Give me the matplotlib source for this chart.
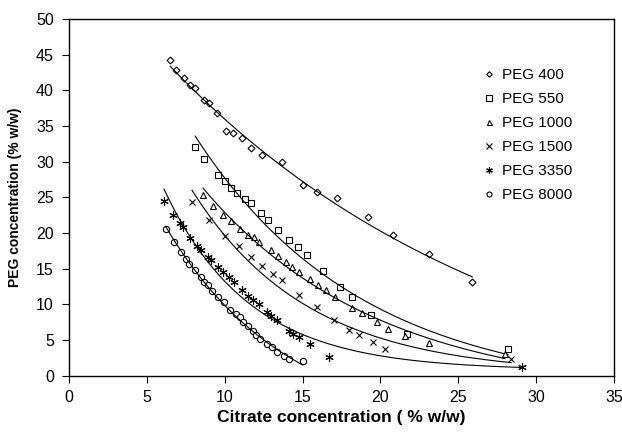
import numpy as np
import matplotlib
matplotlib.use('Agg')
import matplotlib.pyplot as plt

plt.rcParams['font.family'] = ['Liberation Sans', 'DejaVu Sans']

# ── Binodal data (citrate %, PEG %) ──────────────────────────────────────────
peg400_x = [6.5, 6.9, 7.4, 7.8, 8.1, 8.7, 9.0, 9.5, 10.1, 10.5, 11.1, 11.7, 12.4,
            13.7, 15.0, 15.9, 17.2, 19.2, 20.8, 23.1, 25.9]
peg400_y = [44.3, 42.8, 41.8, 40.7, 40.3, 38.7, 38.3, 36.9, 34.3, 34.0, 33.3, 31.9,
            31.0, 29.9, 26.8, 25.8, 24.9, 22.2, 19.7, 17.1, 13.1]

peg550_x = [8.1, 8.7, 9.6, 10.0, 10.4, 10.8, 11.3, 11.7, 12.3, 12.8, 13.4, 14.1,
            14.7, 15.3, 16.3, 17.4, 18.2, 19.4, 21.7, 28.2]
peg550_y = [32.1, 30.4, 28.2, 27.3, 26.3, 25.6, 24.8, 24.2, 22.8, 21.8, 20.4, 19.0,
            18.1, 16.9, 14.7, 12.5, 11.1, 8.5, 5.9, 3.7]

peg1000_x = [8.6, 9.25, 9.9, 10.4, 11.0, 11.5, 11.9, 12.2, 13.0, 13.4, 13.95, 14.3,
             14.8, 15.45, 16.0, 16.5, 17.1, 18.2, 18.8, 19.8, 20.5, 21.6, 23.1, 28.0]
peg1000_y = [25.3, 23.8, 22.6, 21.7, 20.6, 19.8, 19.4, 18.7, 17.6, 16.8, 16.0, 15.3,
             14.6, 13.6, 12.7, 12.0, 11.1, 9.5, 8.8, 7.6, 6.6, 5.6, 4.6, 3.1]

peg1500_x = [7.9, 9.0, 10.0, 10.9, 11.7, 12.4, 13.1, 13.7, 14.8, 15.9, 17.05, 18.0,
             18.65, 19.5, 20.3, 28.4]
peg1500_y = [24.3, 21.8, 19.6, 18.2, 16.6, 15.4, 14.3, 13.5, 11.3, 9.6, 7.8, 6.4,
             5.7, 4.7, 3.8, 2.3]

peg3350_x = [6.1, 6.7, 7.1, 7.3, 7.8, 8.25, 8.5, 8.9, 9.1, 9.6, 9.9, 10.3, 10.6,
             11.1, 11.5, 11.8, 12.2, 12.7, 13.0, 13.35, 14.1, 14.4, 14.8, 15.5, 16.7, 29.1]
peg3350_y = [24.5, 22.5, 21.4, 20.8, 19.3, 18.2, 17.6, 16.7, 16.2, 15.3, 14.6, 13.9,
             13.1, 12.1, 11.2, 10.6, 10.0, 9.0, 8.4, 7.8, 6.3, 5.9, 5.4, 4.4, 2.7, 1.3]

peg8000_x = [6.2, 6.75, 7.2, 7.5, 7.7, 8.1, 8.45, 8.7, 8.9, 9.2, 9.6, 9.95, 10.35,
             10.7, 10.95, 11.2, 11.5, 11.8, 12.0, 12.25, 12.7, 13.05, 13.35, 13.8, 14.1, 15.0]
peg8000_y = [20.6, 18.7, 17.4, 16.4, 15.7, 14.8, 13.8, 13.2, 12.7, 11.9, 11.0, 10.3,
             9.2, 8.7, 8.2, 7.5, 7.0, 6.3, 5.7, 5.2, 4.5, 4.0, 3.4, 2.8, 2.4, 2.1]

series_names = ['PEG 400', 'PEG 550', 'PEG 1000', 'PEG 1500', 'PEG 3350', 'PEG 8000']
series_x = [peg400_x, peg550_x, peg1000_x, peg1500_x, peg3350_x, peg8000_x]
series_y = [peg400_y, peg550_y, peg1000_y, peg1500_y, peg3350_y, peg8000_y]
markers = ['D', 's', '^', 'x', (6, 2, 0), 'o']
msizes = [3.5, 5, 4.5, 5, 6, 4.5]


def exp_offset_fit(x, y):
    """Fit y = a*exp(-k*x) + d: scan the offset d, log-linear fit for each,
    keep the one with the smallest (fit - y)^2 / y."""
    x = np.asarray(x, float)
    y = np.asarray(y, float)
    best = None
    for d in np.linspace(-40, 0.98 * y.min(), 600):
        k, lna = np.polyfit(x, np.log(y - d), 1)
        fit = np.exp(lna + k * x) + d
        err = np.sum((fit - y) ** 2 / y)
        if best is None or err < best[0]:
            best = (err, lna, k, d)
    _, lna, k, d = best
    xs = np.linspace(x.min(), x.max(), 200)
    return xs, np.exp(lna + k * xs) + d


fig = plt.figure(figsize=(6.22, 4.33), dpi=100)
ax = fig.add_axes([0.111, 0.132, 0.876, 0.824])

for name, xs, ys, mk, ms in zip(series_names, series_x, series_y, markers, msizes):
    ax.plot(xs, ys, linestyle='none', marker=mk, ms=ms, mfc='white', mec='black',
            mew=0.8, color='black', label=name)
    fx, fy = exp_offset_fit(xs, ys)
    ax.plot(fx, fy, color='black', lw=0.8)

ax.set_xlim(0, 35)
ax.set_ylim(0, 50)
ax.set_xticks(np.arange(0, 36, 5))
ax.set_yticks(np.arange(0, 51, 5))
ax.tick_params(direction='out', length=5, labelsize=11.5, width=0.8)
ax.tick_params(axis='x', pad=5)
ax.tick_params(axis='y', pad=6)
for sp in ax.spines.values():
    sp.set_linewidth(1.0)
ax.set_xlabel('Citrate concentration ( % w/w)', fontsize=12.5, fontweight='bold', labelpad=4)
ax.set_ylabel('PEG concentration (% w/w)', fontsize=10, fontweight='bold', labelpad=10)

ax.legend(loc='upper left', bbox_to_anchor=(0.752, 0.88), frameon=False, fontsize=11,
          handlelength=0.6, handletextpad=0.5, labelspacing=0.66, markerscale=0.8,
          borderaxespad=0)

plt.savefig('out.png', dpi=100)
plt.close()
